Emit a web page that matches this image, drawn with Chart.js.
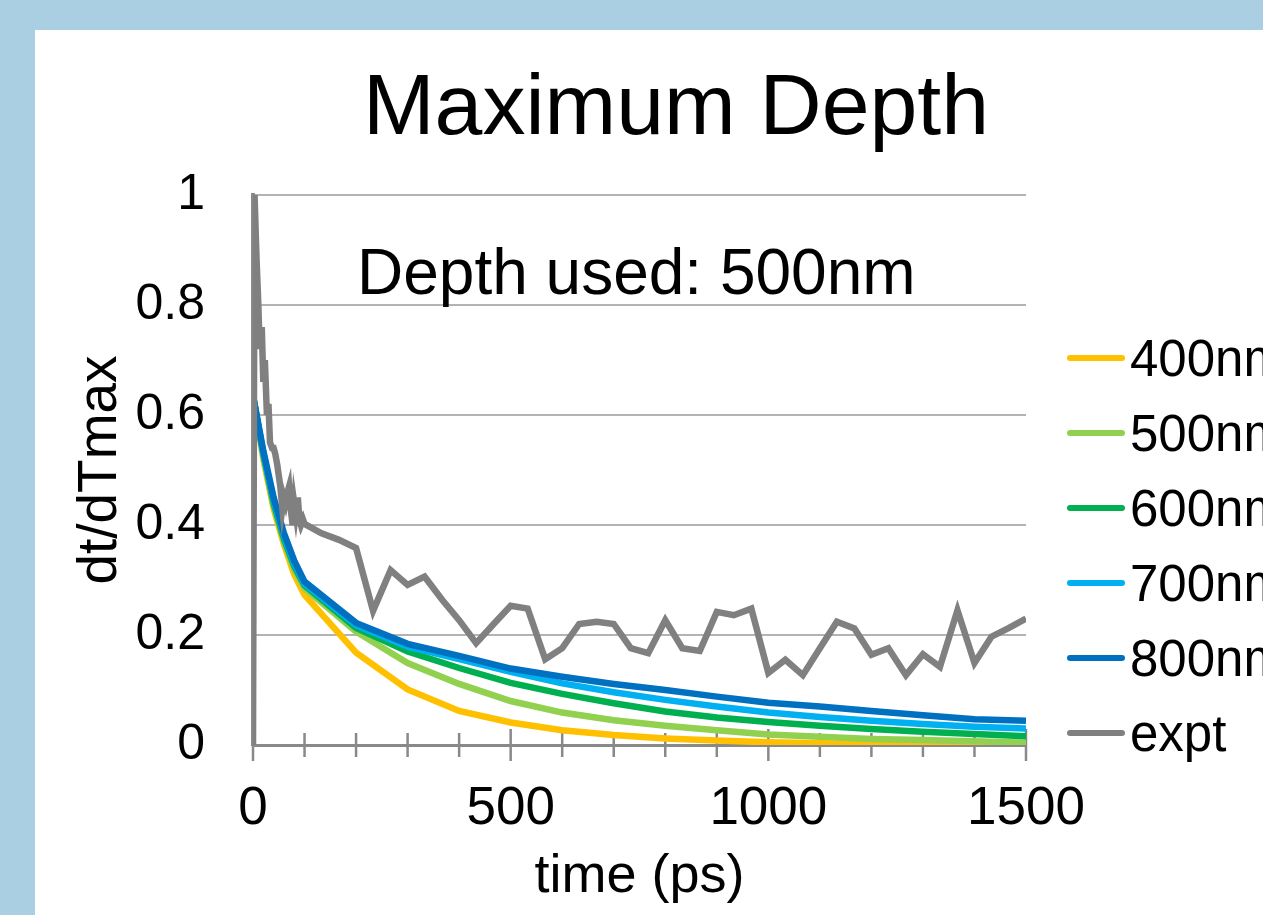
<!DOCTYPE html>
<html>
<head>
<meta charset="utf-8">
<script src="https://cdn.jsdelivr.net/npm/chart.js@4"></script>
<style>
  body { margin: 0; background: #aacfe2; overflow: hidden; }
  #wrap { position: absolute; left: 35px; top: 30px; width: 1228px; height: 885px; background: #fff; }
</style>
</head>
<body>
<div id="wrap"><canvas id="chart"></canvas></div>
<script>
    "use strict";

    var chartTitle = 'Maximum Depth';
    var noteText = 'Depth used: 500nm';
    var xTitle = 'time (ps)';
    var yTitle = 'dt/dTmax';

    // model curves, sampled at these times (ps)
    var modelTimes = [0, 20, 40, 60, 80, 100, 200, 300, 400, 500, 600, 700, 800, 900, 1000, 1100, 1200, 1300, 1400, 1500];
    var d400 = [0.635, 0.52, 0.43, 0.365, 0.31, 0.273, 0.168, 0.101, 0.062, 0.041, 0.027, 0.018, 0.012, 0.008, 0.005, 0.003, 0.002, 0.001, 0.001, 0.0];
    var d500 = [0.635, 0.525, 0.435, 0.37, 0.32, 0.285, 0.206, 0.149, 0.111, 0.080, 0.059, 0.045, 0.035, 0.027, 0.019, 0.015, 0.011, 0.009, 0.007, 0.004];
    var d600 = [0.635, 0.53, 0.44, 0.375, 0.325, 0.29, 0.213, 0.170, 0.140, 0.113, 0.093, 0.076, 0.061, 0.050, 0.042, 0.035, 0.029, 0.024, 0.020, 0.016];
    var d700 = [0.635, 0.53, 0.445, 0.38, 0.33, 0.293, 0.218, 0.179, 0.156, 0.133, 0.112, 0.096, 0.082, 0.070, 0.059, 0.051, 0.044, 0.038, 0.033, 0.030];
    var d800 = [0.635, 0.535, 0.45, 0.385, 0.335, 0.297, 0.222, 0.184, 0.162, 0.139, 0.124, 0.111, 0.100, 0.088, 0.077, 0.070, 0.062, 0.054, 0.047, 0.044];

    // experiment
    var exptTimes = [0, 3, 7, 10, 13, 17, 20, 23, 27, 30, 33, 37, 40, 43, 47, 50, 53, 57, 60, 63, 67, 70, 73, 77, 80, 83, 87, 90, 93, 97,
        100, 133, 167, 200, 233, 267, 300, 333, 367, 400, 433, 467, 500, 533, 567, 600, 633, 667, 700, 733, 767, 800, 833, 867,
        900, 933, 967, 1000, 1033, 1067, 1100, 1133, 1167, 1200, 1233, 1267, 1300, 1333, 1367, 1400, 1433, 1467, 1500];
    var expt = [0, 1.0, 0.88, 0.81, 0.72, 0.76, 0.66, 0.70, 0.60, 0.62, 0.55, 0.54, 0.54, 0.53, 0.51, 0.49, 0.47, 0.43, 0.45, 0.44,
        0.46, 0.47, 0.43, 0.40, 0.44, 0.42, 0.45, 0.41, 0.40, 0.41,
        0.402, 0.385, 0.373, 0.358, 0.244, 0.318, 0.291, 0.306, 0.264, 0.227, 0.185, 0.22, 0.253, 0.248, 0.156, 0.176, 0.22, 0.224,
        0.22, 0.176, 0.167, 0.227, 0.176, 0.171, 0.242, 0.236, 0.248, 0.131, 0.155, 0.127, 0.176, 0.224, 0.212, 0.164, 0.176,
        0.127, 0.165, 0.142, 0.245, 0.149, 0.197, 0.213, 0.230];

    var seriesNames = ['400nm', '500nm', '600nm', '700nm', '800nm', 'expt'];
    var seriesColors = ['#ffc000', '#92d050', '#00b050', '#00b0f0', '#0070c0', '#808080'];

    var FONT = '"Liberation Sans", Arial, sans-serif';
    var axisColor = '#898989';

    function pts(xs, ys) {
        return xs.map(function(x, i) { return {x: x, y: ys[i]}; });
    }

    var seriesData = [
        pts(modelTimes, d400), pts(modelTimes, d500), pts(modelTimes, d600),
        pts(modelTimes, d700), pts(modelTimes, d800), pts(exptTimes, expt)
    ];

    var decor = {
        id: 'decor',
        beforeDatasetsDraw: function(chart) {
            var ctx = chart.ctx, xs = chart.scales.x, ys = chart.scales.y;
            var y0 = ys.getPixelForValue(0);
            ctx.save();
            ctx.strokeStyle = axisColor;
            ctx.lineWidth = 2.5;
            for (var v = 0; v <= 1500; v += 100) {
                var x = xs.getPixelForValue(v);
                var h = v % 500 === 0 ? 16 : 12;
                ctx.beginPath();
                ctx.moveTo(x, y0 - h);
                ctx.lineTo(x, y0 + h);
                ctx.stroke();
            }
            ctx.restore();
        },
        afterDraw: function(chart) {
            var ctx = chart.ctx, area = chart.chartArea;
            ctx.save();
            ctx.fillStyle = '#000';
            ctx.textBaseline = 'alphabetic';

            ctx.font = '86px ' + FONT;
            ctx.textAlign = 'center';
            ctx.fillText(chartTitle, 641, 104);

            ctx.font = '64px ' + FONT;
            ctx.textAlign = 'left';
            ctx.fillText(noteText, area.left + 104, area.top + 99);

            // legend on the right
            ctx.font = '51px ' + FONT;
            for (var i = 0; i < seriesNames.length; i++) {
                var y = area.top + 163 + i * 75;
                ctx.strokeStyle = seriesColors[i];
                ctx.lineWidth = 6;
                ctx.lineCap = 'round';
                ctx.beginPath();
                ctx.moveTo(area.right + 44, y);
                ctx.lineTo(area.right + 96, y);
                ctx.stroke();
                ctx.fillText(seriesNames[i], area.right + 104, y + 18);
            }
            ctx.restore();
        }
    };

    Chart.defaults.font.family = FONT;
    Chart.defaults.color = '#000';

    new Chart(document.getElementById('chart'), {
        type: 'line',
        data: {
            datasets: seriesNames.map(function(name, i) {
                return {
                    label: name,
                    data: seriesData[i],
                    borderColor: seriesColors[i],
                    backgroundColor: seriesColors[i],
                    borderWidth: 6.5,
                    pointRadius: 0,
                    tension: 0,
                    fill: false,
                    order: seriesNames.length - i
                };
            })
        },
        options: {
            responsive: true,
            maintainAspectRatio: false,
            animation: false,
            layout: { padding: { left: 0, top: 165, right: 237, bottom: 0 } },
            scales: {
                x: {
                    type: 'linear',
                    min: 0,
                    max: 1500,
                    afterFit: function(scale) { scale.height = 170; },
                    border: { color: axisColor, width: 3 },
                    grid: { display: false },
                    ticks: {
                        stepSize: 500,
                        maxRotation: 0,
                        padding: 25,
                        font: { size: 53 },
                        callback: function(value) { return String(value); }
                    },
                    title: {
                        display: true,
                        text: xTitle,
                        font: { size: 54 },
                        padding: { top: 0, bottom: 5 }
                    }
                },
                y: {
                    min: 0,
                    max: 1,
                    afterFit: function(scale) { scale.width = 218; },
                    border: { color: axisColor, width: 4 },
                    grid: { color: '#b3b3b3', lineWidth: 2, drawTicks: false },
                    ticks: {
                        stepSize: 0.2,
                        padding: 48,
                        font: { size: 50 },
                        callback: function(value) { return String(+value.toFixed(1)); }
                    },
                    title: {
                        display: true,
                        text: yTitle,
                        font: { size: 55 },
                        padding: { top: 33, bottom: 0 }
                    }
                }
            },
            plugins: {
                legend: { display: false },
                tooltip: { enabled: false }
            }
        },
        plugins: [decor]
    });
</script>
</body>
</html>
